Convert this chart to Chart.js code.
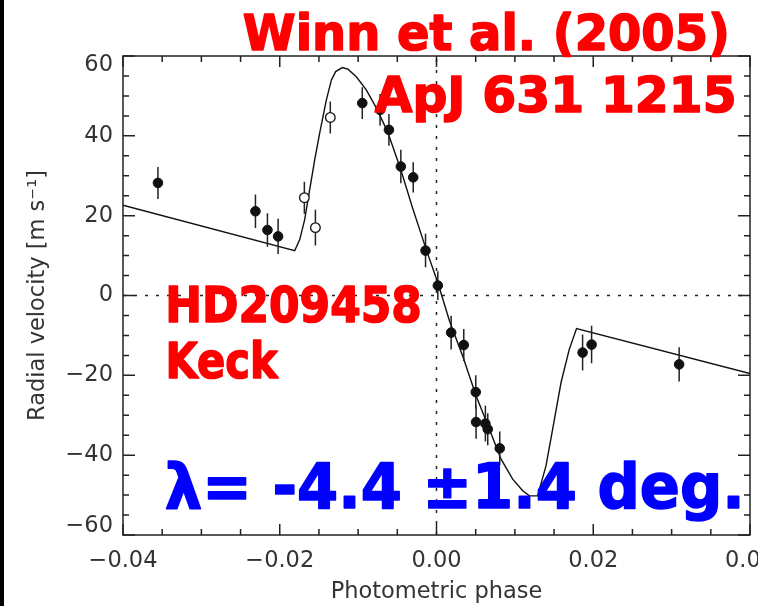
<!DOCTYPE html>
<html>
<head>
<meta charset="utf-8">
<script src="https://cdn.jsdelivr.net/npm/chart.js@4.4.1/dist/chart.umd.min.js"></script>
<style>
  html, body { margin: 0; padding: 0; background: #fff; }
  #wrap { position: relative; width: 758px; height: 606px; background: linear-gradient(to right, #000 0, #000 4px, #fff 4px); }
  canvas { position: absolute; left: 0; top: 0; }
</style>
</head>
<body>
<div id="wrap"><canvas id="c" width="758" height="606"></canvas></div>
<script>
// ---- data ----
const filledPhase = [-0.03554, -0.02310, -0.02157, -0.02021, -0.00947, -0.00720, -0.00607, -0.00455, -0.00297, -0.00140, 0.00017, 0.00187, 0.00348, 0.00501, 0.00505, 0.00624, 0.00654, 0.00807, 0.01864, 0.01979, 0.03096];
const filledRV    = [28.2, 21.1, 16.4, 14.8, 48.2, 46.5, 41.5, 32.3, 29.6, 11.25, 2.5, -9.3, -12.4, -24.2, -31.7, -32.1, -33.5, -38.3, -14.3, -12.3, -17.25];
const filledErr   = [4.0, 4.2, 4.2, 4.4, 4.0, 4.0, 4.0, 4.2, 3.8, 4.2, 3.6, 4.2, 4.0, 4.2, 4.2, 4.5, 4.0, 4.2, 4.5, 4.7, 4.3];

const openPhase = [-0.01686, -0.01545, -0.01355];
const openRV    = [24.5, 17.0, 44.6];
const openErr   = [4.0, 4.5, 4.0];

const modelPhase = [-0.040, -0.01809, -0.01745, -0.01682, -0.01618, -0.01554, -0.01490, -0.01405, -0.01341, -0.01287, -0.01201, -0.01130, -0.01023, -0.00896, -0.00768, -0.00624, -0.00459, -0.00306, -0.00131, 0.00017, 0.00166, 0.00335, 0.00506, 0.00675, 0.00824, 0.00972, 0.01100, 0.01185, 0.01290, 0.01397, 0.01482, 0.01589, 0.01694, 0.01787, 0.040];
const modelRV    = [22.6, 11.25, 14.0, 19.0, 26.5, 34.0, 40.75, 49.0, 54.0, 56.1, 57.1, 56.7, 54.8, 51.5, 47.0, 41.0, 31.75, 22.0, 11.5, 3.2, -6.4, -15.2, -25.2, -33.5, -41.0, -46.0, -48.9, -50.2, -50.2, -42.7, -33.5, -21.8, -13.5, -8.3, -19.55];

const xTickValues = [-0.04, -0.02, 0.00, 0.02, 0.04];
const yTickValues = [-60, -40, -20, 0, 20, 40, 60];

const titleLines = ["Winn et al. (2005)", "ApJ 631 1215"];
const targetLines = ["HD209458", "Keck"];
const lambdaLine = "λ= -4.4 ±1.4 deg.";
const xTitle = "Photometric phase";
const yTitle = "Radial velocity [m s⁻¹]";

// ---- build library data ----
const toPts = (xs, ys) => xs.map((x, i) => ({x: x, y: ys[i]}));
function errSegments(xs, ys, es) {
  const out = [];
  xs.forEach((x, i) => {
    out.push({x: x, y: ys[i] - es[i]});
    out.push({x: x, y: ys[i] + es[i]});
    out.push({x: x, y: null});
  });
  return out;
}
const errData = errSegments(filledPhase, filledRV, filledErr).concat(errSegments(openPhase, openRV, openErr));

const fmtX = v => { const r = Math.round(v * 100) / 100; return (r < 0 ? '−' : '') + Math.abs(r).toFixed(2); };
const yMin = yTickValues[0], yMax = yTickValues[yTickValues.length - 1];
const fmtY = v => {
  const r = Math.round(v);
  const s = (r < 0 ? '−' : '') + Math.abs(r);
  // end labels sit inside the frame, as in the reference
  if (r === yMax) return ['', s];
  if (r === yMin) return [s, ''];
  return s;
};

const axisFont = {family: '"DejaVu Sans", sans-serif', size: 22.5, weight: 'normal'};
const yTickFont = {family: '"DejaVu Sans", sans-serif', size: 22.5, weight: 'normal', lineHeight: 0.8};
const inkColor = '#222';

// frame + inward ticks plugin
const framePlugin = {
  id: 'frame',
  afterDatasetsDraw(chart) {
    const {ctx, chartArea: a, scales: {x, y}} = chart;
    ctx.save();
    ctx.strokeStyle = inkColor;
    ctx.lineWidth = 1.5;
    ctx.strokeRect(a.left, a.top, a.right - a.left, a.bottom - a.top);
    ctx.beginPath();
    for (let i = -8; i <= 8; i++) {
      const px = x.getPixelForValue(i * 0.005);
      const len = (i % 4 === 0) ? 11 : 6;
      ctx.moveTo(px, a.bottom); ctx.lineTo(px, a.bottom - len);
      ctx.moveTo(px, a.top); ctx.lineTo(px, a.top + len);
    }
    for (let i = -12; i <= 12; i++) {
      const py = y.getPixelForValue(i * 5);
      const len = (i % 4 === 0) ? 12 : 6;
      ctx.moveTo(a.left, py); ctx.lineTo(a.left + len, py);
      ctx.moveTo(a.right, py); ctx.lineTo(a.right - len, py);
    }
    ctx.stroke();
    ctx.restore();
  }
};

// overlay texts
function drawFit(ctx, text, left, right, capTop, baseline, color) {
  ctx.save();
  ctx.font = 'bold 100px "DejaVu Sans"';
  const capAsc = ctx.measureText('H').actualBoundingBoxAscent;
  const size = (baseline - capTop) / capAsc * 100;
  ctx.font = 'bold ' + size + 'px "DejaVu Sans"';
  const m = ctx.measureText(text);
  const inkW = m.actualBoundingBoxLeft + m.actualBoundingBoxRight;
  const sx = (right - left - 1.5) / inkW;
  ctx.translate(left + 0.75, baseline);
  ctx.scale(sx, 1);
  ctx.fillStyle = color;
  ctx.strokeStyle = color;
  ctx.lineWidth = 1.6;
  ctx.lineJoin = 'round';
  ctx.textAlign = 'left';
  ctx.textBaseline = 'alphabetic';
  ctx.fillText(text, m.actualBoundingBoxLeft, 0);
  ctx.strokeText(text, m.actualBoundingBoxLeft, 0);
  ctx.restore();
}
const textPlugin = {
  id: 'texts',
  afterDraw(chart) {
    const ctx = chart.ctx;
    drawFit(ctx, titleLines[0], 243, 727, 13.5, 50, '#ff0000');
    drawFit(ctx, titleLines[1], 374, 734, 76, 112, '#ff0000');
    drawFit(ctx, targetLines[0], 168, 420, 285, 321.7, '#ff0000');
    drawFit(ctx, targetLines[1], 168, 280, 341.7, 378, '#ff0000');
    drawFit(ctx, lambdaLine, 165, 740, 462, 508, '#0000ff');
  }
};

new Chart(document.getElementById('c'), {
  type: 'scatter',
  data: {
    datasets: [
      { label: 'filled', data: toPts(filledPhase, filledRV), pointRadius: 4.8, pointBackgroundColor: '#111', pointBorderColor: '#111', pointBorderWidth: 1, showLine: false },
      { label: 'open', data: toPts(openPhase, openRV), pointRadius: 4.8, pointBackgroundColor: '#fff', pointBorderColor: '#111', pointBorderWidth: 1.3, showLine: false },
      { label: 'err', data: errData, showLine: true, spanGaps: false, pointRadius: 0, borderColor: inkColor, borderWidth: 1.5 },
      { label: 'model', data: toPts(modelPhase, modelRV), showLine: true, pointRadius: 0, borderColor: '#111', borderWidth: 1.4, tension: 0 },
      { label: 'zeroY', data: [{x: -0.04, y: 0}, {x: 0.04, y: 0}], showLine: true, pointRadius: 0, borderColor: inkColor, borderWidth: 1.5, borderDash: [3, 8] },
      { label: 'zeroX', data: [{x: 0, y: -60}, {x: 0, y: 60}], showLine: true, pointRadius: 0, borderColor: inkColor, borderWidth: 1.5, borderDash: [3, 8] }
    ]
  },
  options: {
    responsive: false,
    animation: false,
    devicePixelRatio: 1,
    layout: { padding: { top: 56, right: 8, left: 0, bottom: 0 } },
    plugins: { legend: { display: false }, tooltip: { enabled: false } },
    scales: {
      x: {
        type: 'linear', min: -0.04, max: 0.04,
        afterBuildTicks: s => { s.ticks = xTickValues.map(v => ({value: v})); },
        ticks: { callback: fmtX, font: axisFont, color: '#333', padding: 13, maxRotation: 0, autoSkip: false },
        grid: { display: false, drawTicks: false },
        border: { display: false },
        title: { display: true, text: xTitle, font: axisFont, color: '#333', padding: { top: 0, bottom: 0 } },
        afterFit: s => { s.height = 71; s.paddingLeft = 0; s.paddingRight = 0; }
      },
      y: {
        type: 'linear', min: -60, max: 60,
        afterBuildTicks: s => { s.ticks = yTickValues.map(v => ({value: v})); },
        ticks: { callback: fmtY, font: yTickFont, color: '#333', padding: 10, autoSkip: false },
        grid: { display: false, drawTicks: false },
        border: { display: false },
        title: { display: true, text: yTitle, font: axisFont, color: '#333', padding: { top: 24.5, bottom: 0 } },
        afterFit: s => { s.width = 123; s.paddingTop = 0; s.paddingBottom = 0; }
      }
    }
  },
  plugins: [framePlugin, textPlugin]
});
</script>
</body>
</html>
